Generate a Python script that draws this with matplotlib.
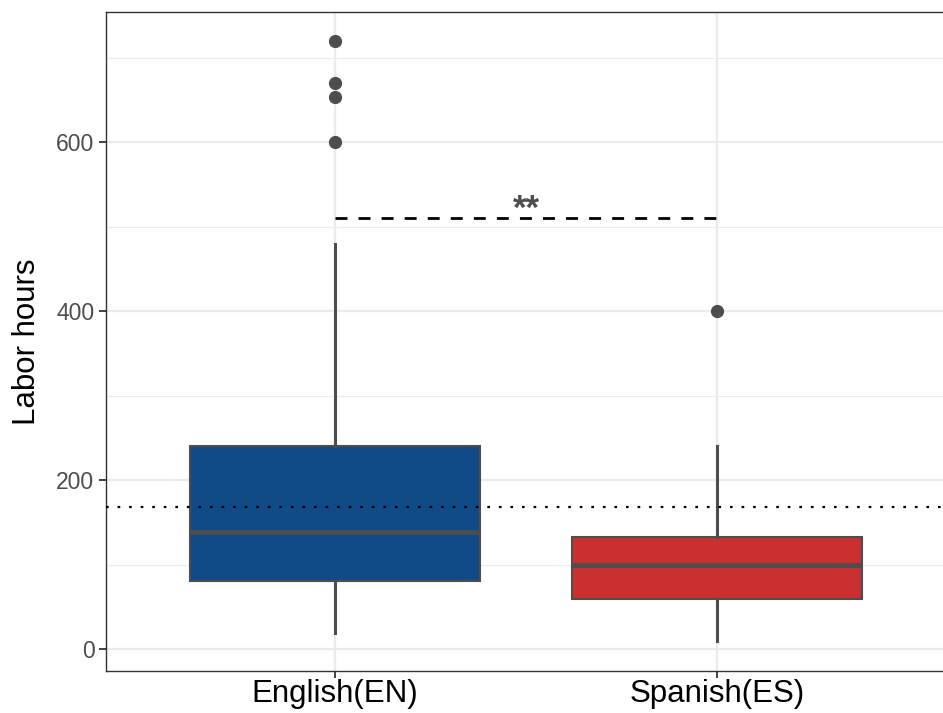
import matplotlib
matplotlib.use("Agg")
import matplotlib.pyplot as plt
from matplotlib.ticker import MultipleLocator

plt.rcParams['font.family'] = ['Liberation Sans', 'DejaVu Sans']

# box summary per language group
groups = ["English(EN)", "Spanish(ES)"]
q1 = [80, 59]
medians = [138, 100]
q3 = [240, 133]
whisker_lo = [19, 10]
whisker_hi = [479, 240]
outliers = [[600, 653, 670, 720], [400]]
colors = ["#104B87", "#CA3030"]

overall_mean = 168
sig_y = 510
sig_label = "**"

fig = plt.figure(figsize=(9.43, 7.13), dpi=100)
# right edge of the panel runs a little past the canvas
ax = fig.add_axes([105.5 / 943, 42 / 713, 841 / 943, 659 / 713])

stats = []
for i, g in enumerate(groups):
    stats.append(dict(label=g, q1=q1[i], med=medians[i], q3=q3[i],
                      whislo=whisker_lo[i], whishi=whisker_hi[i],
                      fliers=outliers[i]))

pos = list(range(1, len(groups) + 1))
edge = "#4D4D4D"
bp = ax.bxp(stats, positions=pos, widths=0.76, patch_artist=True,
            showcaps=False,
            boxprops=dict(edgecolor=edge, linewidth=1.5),
            whiskerprops=dict(color=edge, linewidth=2.2),
            medianprops=dict(color=edge, linewidth=3.4, solid_capstyle='butt'),
            flierprops=dict(marker='o', markerfacecolor=edge, markeredgecolor=edge,
                            markersize=8.5),
            zorder=3)
for patch, c in zip(bp['boxes'], colors):
    patch.set_facecolor(c)

# overall mean reference line
ax.axhline(overall_mean, color='black', linewidth=1.6, linestyle=(0, (1.2, 4.0)),
           zorder=4)

# significance bracket
ax.plot([pos[0], pos[1]], [sig_y, sig_y], color='black', linewidth=2.0,
        linestyle=(0, (4.3, 4.0)), zorder=4)
ax.text((pos[0] + pos[1]) / 2, sig_y - 1, sig_label, ha='center',
        va='baseline', fontsize=25, color='#4D4D4D', fontweight='bold')

ax.set_xlim(0.4, 2.6)
ax.set_ylim(-26, 754)
ax.set_xticks(pos)
ax.set_xticklabels(groups)
ax.yaxis.set_major_locator(MultipleLocator(200))
ax.yaxis.set_minor_locator(MultipleLocator(100))
ax.grid(True, which='major', color='#EBEBEB', linewidth=1.6, zorder=0)
ax.grid(True, which='minor', axis='y', color='#EBEBEB', linewidth=0.8, zorder=0)
ax.set_axisbelow(True)

ax.tick_params(axis='y', which='major', labelsize=16.5, labelcolor='#4D4D4D',
               color='#333333', length=5, width=1.3, pad=3)
ax.tick_params(axis='y', which='minor', length=0)
ax.tick_params(axis='x', labelsize=22.5, labelcolor='black', color='#333333',
               length=5, width=1.3, pad=1)
for s in ax.spines.values():
    s.set_color('#333333')
    s.set_linewidth(1.0)
ax.spines['right'].set_visible(False)

ax.set_ylabel("Labor hours", fontsize=22.5, labelpad=10)

fig.savefig("out.png", dpi=100)
